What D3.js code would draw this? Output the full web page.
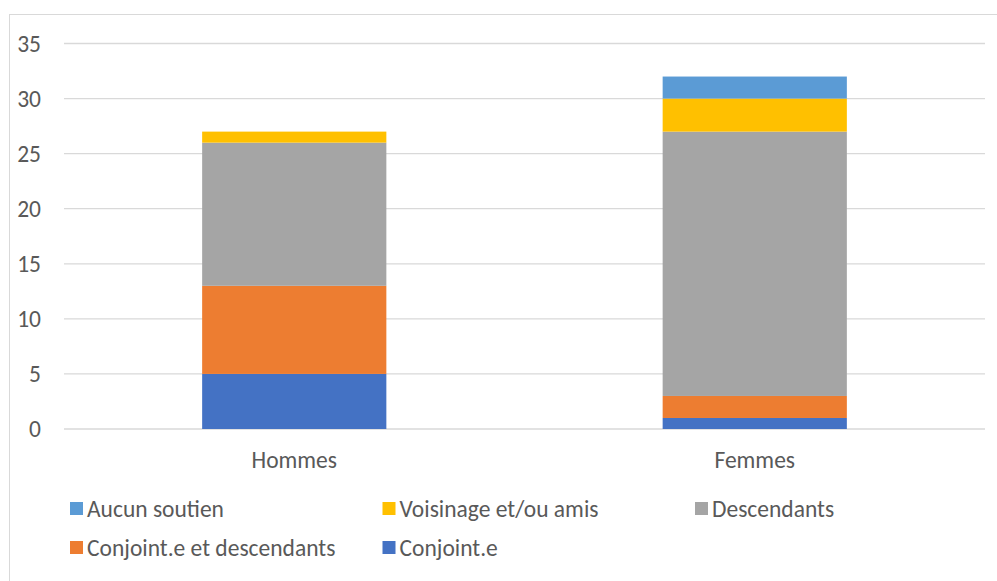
<!DOCTYPE html>
<html>
<head>
<meta charset="utf-8">
<script src="https://cdn.jsdelivr.net/npm/d3@7"></script>
<style>
  body { margin: 0; background: #fff; }
  svg text { font-family: Calibri, Carlito, Lato, sans-serif; fill: #595959; font-size: 23.5px; }
</style>
</head>
<body>
<div id="chart"></div>
<script>
const categories = ["Hommes", "Femmes"];
const conjoint = [5, 1];
const conjointDesc = [8, 2];
const descendants = [13, 24];
const voisinage = [1, 3];
const aucun = [0, 2];
const yTicks = [0, 5, 10, 15, 20, 25, 30, 35];

const seriesNames = ["Conjoint.e", "Conjoint.e et descendants", "Descendants", "Voisinage et/ou amis", "Aucun soutien"];
const seriesValues = [conjoint, conjointDesc, descendants, voisinage, aucun];
const colors = ["#4472C4", "#ED7D31", "#A5A5A5", "#FFC000", "#5B9BD5"];

const width = 997;
const height = 581;

const rows = categories.map((c, i) => {
  const r = { category: c };
  seriesNames.forEach((s, j) => (r[s] = seriesValues[j][i]));
  return r;
});

const stacked = d3.stack().keys(seriesNames)(rows);

const svg = d3.select("#chart").append("svg").attr("width", width).attr("height", height);

// chart border (runs past the window on the right and bottom)
svg.append("rect")
  .attr("x", 9.5).attr("y", 14.5)
  .attr("width", 1010).attr("height", 600)
  .attr("fill", "none").attr("stroke", "#d9d9d9");

const x = d3.scaleBand().domain(categories).range([64, 985]).paddingInner(0.6).paddingOuter(0.3);
const y = d3.scaleLinear().domain([0, 35]).range([429, 43.5]);
const color = d3.scaleOrdinal().domain(seriesNames).range(colors);

// gridlines
svg.append("g")
  .selectAll("line")
  .data(yTicks)
  .enter()
  .append("line")
  .attr("x1", 64).attr("x2", 985)
  .attr("y1", (d) => y(d)).attr("y2", (d) => y(d))
  .attr("stroke", "#d9d9d9").attr("stroke-width", 1.3);

// y labels
svg.append("g")
  .selectAll("text")
  .data(yTicks)
  .enter()
  .append("text")
  .attr("x", 41)
  .attr("y", (d) => y(d))
  .attr("dy", "0.35em")
  .attr("text-anchor", "end")
  .text((d) => d);

// bars
svg.append("g")
  .selectAll("g")
  .data(stacked)
  .enter()
  .append("g")
  .attr("fill", (d) => color(d.key))
  .selectAll("rect")
  .data((d) => d)
  .enter()
  .append("rect")
  .attr("x", (d) => x(d.data.category))
  .attr("y", (d) => y(d[1]))
  .attr("width", x.bandwidth())
  .attr("height", (d) => y(d[0]) - y(d[1]));

// x labels
svg.append("g")
  .selectAll("text")
  .data(categories)
  .enter()
  .append("text")
  .attr("x", (d) => x(d) + x.bandwidth() / 2)
  .attr("y", 468)
  .attr("text-anchor", "middle")
  .text((d) => d);

// legend, reversed series order, 3 per row
const legendOrder = seriesNames.slice().reverse();
const legendItems = svg.append("g")
  .selectAll("g")
  .data(legendOrder)
  .enter()
  .append("g")
  .attr("transform", (d, i) => `translate(${70 + (i % 3) * 312.5}, ${509 + Math.floor(i / 3) * 39})`);

legendItems.append("rect")
  .attr("x", 0).attr("y", -7)
  .attr("width", 13).attr("height", 13)
  .attr("fill", (d) => color(d));

legendItems.append("text")
  .attr("x", 17)
  .attr("y", 0)
  .attr("dy", "0.35em")
  .text((d) => d);
</script>
</body>
</html>
